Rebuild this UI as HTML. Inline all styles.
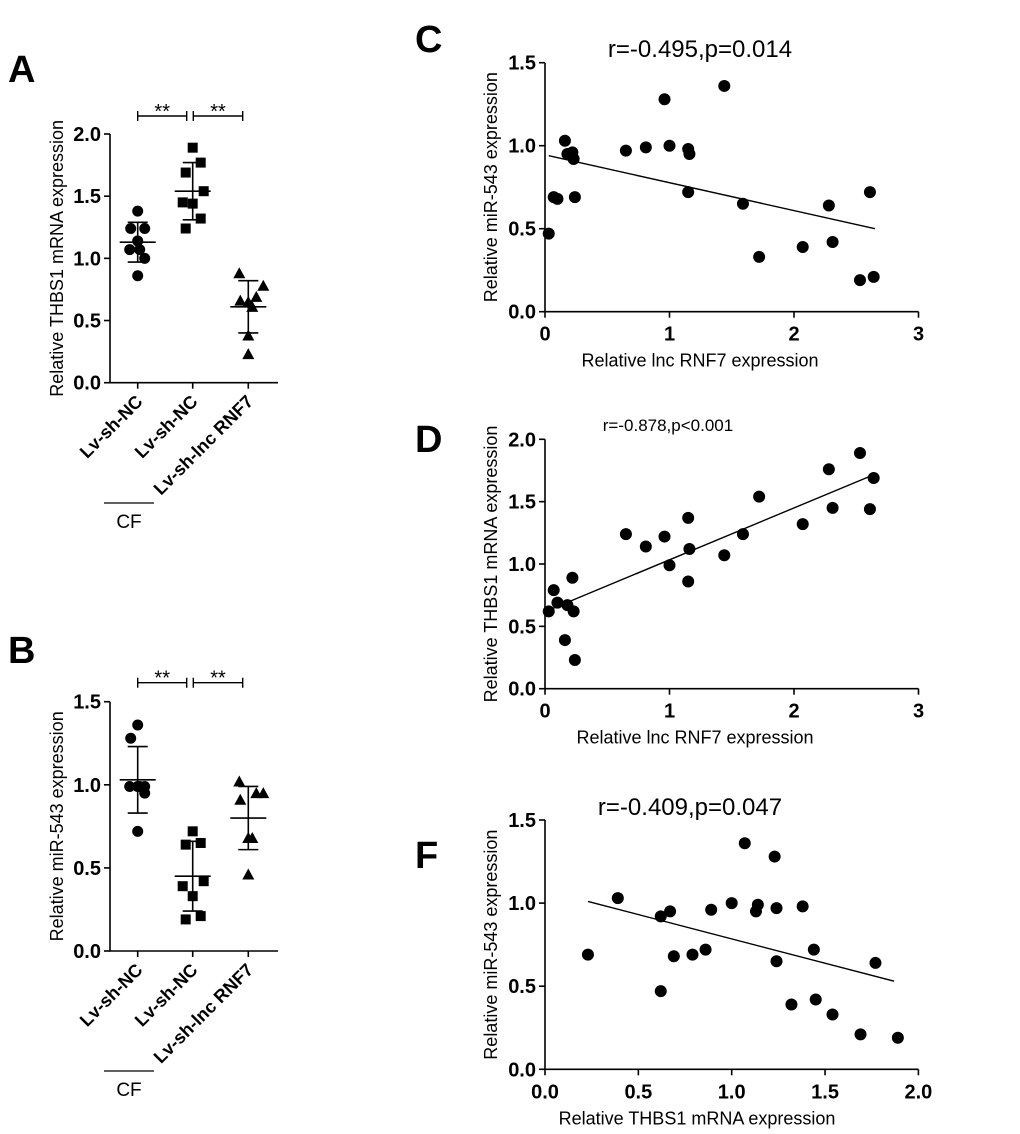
<!DOCTYPE html>
<html><head><meta charset="utf-8"><style>
html,body{margin:0;padding:0;background:#fff;}
svg{display:block;font-family:"Liberation Sans",Arial,sans-serif;}
</style></head><body>
<svg id="fig" width="1020" height="1134" viewBox="0 0 1020 1134" xmlns="http://www.w3.org/2000/svg">
<text x="8" y="82" font-size="38" font-weight="bold">A</text>
<text x="8" y="663" font-size="38" font-weight="bold">B</text>
<text x="415" y="52" font-size="38" font-weight="bold">C</text>
<text x="415" y="452" font-size="38" font-weight="bold">D</text>
<text x="415" y="868" font-size="38" font-weight="bold">F</text>
</svg>
<script>
// ---- Panel A data ----
const aGroups = ["Lv-sh-NC","Lv-sh-NC","Lv-sh-lnc RNF7"];
const aVals1 = [1.38,1.24,1.24,1.14,1.07,1.07,1.00,0.86];
const aVals2 = [1.89,1.77,1.69,1.54,1.45,1.44,1.32,1.24];
const aVals3 = [0.88,0.78,0.69,0.66,0.65,0.61,0.38,0.23];
const aMeans = [1.13,1.54,0.61];
const aSD = [0.16,0.23,0.21];
const aTicks = ["0.0","0.5","1.0","1.5","2.0"];
// ---- Panel B data ----
const bVals1 = [1.36,1.28,0.99,0.99,0.99,0.99,0.95,0.72];
const bVals2 = [0.72,0.65,0.64,0.42,0.39,0.33,0.21,0.19];
const bVals3 = [1.02,0.95,0.95,0.91,0.68,0.68,0.68,0.46];
const bMeans = [1.03,0.45,0.80];
const bSD = [0.20,0.21,0.19];
const bTicks = ["0.0","0.5","1.0","1.5"];
// ---- Panel C data ----
const cX = [0.03,0.07,0.10,0.16,0.18,0.22,0.23,0.24,0.65,0.81,0.96,1.00,1.15,1.16,1.15,1.44,1.59,1.72,2.07,2.28,2.31,2.53,2.61,2.64];
const cY = [0.47,0.69,0.68,1.03,0.95,0.96,0.92,0.69,0.97,0.99,1.28,1.00,0.98,0.95,0.72,1.36,0.65,0.33,0.39,0.64,0.42,0.19,0.72,0.21];
const cFitX = [0.03,2.65];
const cFitY = [0.94,0.50];
// ---- Panel D data ----
const dX = [0.03,0.07,0.10,0.16,0.18,0.22,0.23,0.24,0.65,0.81,0.96,1.00,1.15,1.16,1.15,1.44,1.59,1.72,2.07,2.28,2.31,2.53,2.61,2.64];
const dY = [0.62,0.79,0.69,0.39,0.67,0.89,0.62,0.23,1.24,1.14,1.22,0.99,1.37,1.12,0.86,1.07,1.24,1.54,1.32,1.76,1.45,1.89,1.44,1.69];
const dFitX = [0.03,2.65];
const dFitY = [0.63,1.72];
// ---- Panel F data ----
const fX = [0.23,0.39,0.62,0.62,0.67,0.69,0.79,0.86,0.89,1.00,1.07,1.13,1.14,1.23,1.24,1.24,1.32,1.38,1.44,1.45,1.54,1.69,1.77,1.89];
const fY = [0.69,1.03,0.92,0.47,0.95,0.68,0.69,0.72,0.96,1.00,1.36,0.95,0.99,1.28,0.97,0.65,0.39,0.98,0.72,0.42,0.33,0.21,0.64,0.19];
const fFitX = [0.23,1.87];
const fFitY = [1.01,0.53];
const xTicksCD = ["0","1","2","3"];
const xTicksF = ["0.0","0.5","1.0","1.5","2.0"];
const yTicksC = ["0.0","0.5","1.0","1.5"];
const yTicksD = ["0.0","0.5","1.0","1.5","2.0"];

const NS="http://www.w3.org/2000/svg";
const svg=document.getElementById('fig');
function mk(tag,attrs,parent){const e=document.createElementNS(NS,tag);for(const k in attrs)e.setAttribute(k,attrs[k]);(parent||svg).appendChild(e);return e;}
function txt(s,attrs,parent){const e=mk('text',attrs,parent);e.textContent=s;return e;}

const jit1=[0,-7,7,0,-8,2,7,0], jit2=[0,8,-7,11,-10,0,8,-7], jit3=[-9,15,8,-8,0,4,0,0];

function dotPlot(cfg){
  const g=mk('g',{});
  
  
  const y=v=>cfg.y0-(v/cfg.ymax)*(cfg.y0-cfg.y1);
  const gx=[137.7,192.7,248.3];
  const ax=mk('path',{d:`M110 ${cfg.y1}V${cfg.y0}H278`,stroke:'#000','stroke-width':1.6,fill:'none'},g);
  
  
  cfg.ticks.forEach(t=>{const yy=y(parseFloat(t));
    mk('line',{x1:104,x2:110,y1:yy,y2:yy,stroke:'#000','stroke-width':1.6},g);
    const l=txt(t,{x:101,y:yy+7,'text-anchor':'end','font-size':'20','font-weight':'bold'},g);
    
    
  });
  gx.forEach((x,i)=>{mk('line',{x1:x,x2:x,y1:cfg.y0,y2:cfg.y0+6,stroke:'#000','stroke-width':1.6},g);
    const l=txt(aGroups[i],{x:0,y:0,'text-anchor':'end','font-size':'18','font-weight':'bold',transform:`translate(${x+6},${cfg.y0+20}) rotate(-45)`},g);
    
    
  });
  const yt=txt(cfg.ytitle,{x:0,y:0,'text-anchor':'middle','font-size':'18',transform:`translate(63,${(cfg.y0+cfg.y1)/2}) rotate(-90)`},g);
  
  
  const sets=[cfg.v1,cfg.v2,cfg.v3], jits=[jit1,jit2,jit3];
  sets.forEach((vals,gi)=>{vals.forEach((v,i)=>{
    const cx=gx[gi]+jits[gi][i], cy=y(v); let p;
    if(gi===0)p=mk('circle',{cx:cx,cy:cy,r:5.5,fill:'#000'},g);
    else if(gi===1)p=mk('rect',{x:cx-5,y:cy-5,width:10,height:10,fill:'#000'},g);
    else p=mk('path',{d:`M${cx} ${cy-6}L${cx+6} ${cy+5}L${cx-6} ${cy+5}Z`,fill:'#000'},g);
    
    
  });
    const m=cfg.means[gi], s=cfg.sd[gi], x=gx[gi];
    const e=mk('path',{d:`M${x-18} ${y(m)}H${x+18}M${x-10} ${y(m+s)}H${x+10}M${x-10} ${y(m-s)}H${x+10}M${x} ${y(m+s)}V${y(m-s)}`,stroke:'#000','stroke-width':1.6,fill:'none'},g);
    
    
  });
  [[137.7,186.7],[193.3,242.7]].forEach(([a,b])=>{
    const br=mk('path',{d:`M${a} ${cfg.by-5}V${cfg.by+5}M${a} ${cfg.by}H${b}M${b} ${cfg.by-5}V${cfg.by+5}`,stroke:'#000','stroke-width':1.4,fill:'none'},g);
    
    
    const st=txt('**',{x:(a+b)/2,y:cfg.by+2,'text-anchor':'middle','font-size':'20'},g);
    
    
  });
  const cl=mk('line',{x1:104,x2:154,y1:cfg.cfy,y2:cfg.cfy,stroke:'#000','stroke-width':1.2},g);
  
  
  const ct=txt('CF',{x:129,y:cfg.cfy+25,'text-anchor':'middle','font-size':'19'},g);
  
  
}

function scatter(cfg){
  const g=mk('g',{});
  
  
  const X=v=>545+v*cfg.xs, Y=v=>cfg.y0-v*cfg.ys;
  const xmax=parseFloat(cfg.xt[cfg.xt.length-1]), ymax=parseFloat(cfg.yt[cfg.yt.length-1]);
  const ax=mk('path',{d:`M545 ${Y(ymax)}V${cfg.y0}H${X(xmax)}`,stroke:'#000','stroke-width':1.6,fill:'none'},g);
  
  
  cfg.yt.forEach(t=>{const yy=Y(parseFloat(t));
    mk('line',{x1:539,x2:545,y1:yy,y2:yy,stroke:'#000','stroke-width':1.6},g);
    const l=txt(t,{x:536,y:yy+7,'text-anchor':'end','font-size':'20','font-weight':'bold'},g);
    
    
  });
  cfg.xt.forEach(t=>{const xx=X(parseFloat(t));
    mk('line',{x1:xx,x2:xx,y1:cfg.y0,y2:cfg.y0+6,stroke:'#000','stroke-width':1.6},g);
    const l=txt(t,{x:xx,y:cfg.y0+29,'text-anchor':'middle','font-size':'20','font-weight':'bold'},g);
    
    
  });
  cfg.px.forEach((v,i)=>{const c=mk('circle',{cx:X(v),cy:Y(cfg.py[i]),r:6,fill:'#000'},g);
    
    
  });
  const fl=mk('line',{x1:X(cfg.fx[0]),y1:Y(cfg.fy[0]),x2:X(cfg.fx[1]),y2:Y(cfg.fy[1]),stroke:'#000','stroke-width':1.4},g);
  
  
  const tt=txt(cfg.title,{x:cfg.tx,y:cfg.ty,'text-anchor':'middle','font-size':cfg.tfs},g);
  
  
  const xl=txt(cfg.xlab,{x:cfg.xlx,y:cfg.y0+55,'text-anchor':'middle','font-size':'18'},g);
  
  
  const yl=txt(cfg.ylab,{x:0,y:0,'text-anchor':'middle','font-size':'18',transform:`translate(497,${cfg.y0-ymax*cfg.ys/2}) rotate(-90)`},g);
  
  
}

dotPlot({name:'panel-a-dot-plot',y0:382.7,y1:134,ymax:2,ticks:aTicks,v1:aVals1,v2:aVals2,v3:aVals3,means:aMeans,sd:aSD,by:116,cfy:503,ytitle:'Relative THBS1 mRNA expression'});
dotPlot({name:'panel-b-dot-plot',y0:951,y1:701.7,ymax:1.5,ticks:bTicks,v1:bVals1,v2:bVals2,v3:bVals3,means:bMeans,sd:bSD,by:682.7,cfy:1071,ytitle:'Relative  miR-543 expression'});
scatter({name:'panel-c-scatter',y0:311.7,ys:166,xs:124.5,xt:xTicksCD,yt:yTicksC,px:cX,py:cY,fx:cFitX,fy:cFitY,title:'r=-0.495,p=0.014',tx:700,ty:57,tfs:'24',xlab:'Relative lnc RNF7 expression',xlx:700,ylab:'Relative  miR-543 expression'});
scatter({name:'panel-d-scatter',y0:688.7,ys:124.7,xs:124.5,xt:xTicksCD,yt:yTicksD,px:dX,py:dY,fx:dFitX,fy:dFitY,title:'r=-0.878,p<0.001',tx:668,ty:431,tfs:'17',xlab:'Relative lnc RNF7 expression',xlx:695,ylab:'Relative THBS1 mRNA expression'});
scatter({name:'panel-f-scatter',y0:1069.3,ys:166.2,xs:186.7,xt:xTicksF,yt:yTicksC,px:fX,py:fY,fx:fFitX,fy:fFitY,title:'r=-0.409,p=0.047',tx:690,ty:815,tfs:'24',xlab:'Relative THBS1 mRNA expression',xlx:697,ylab:'Relative  miR-543 expression'});
</script>
</body></html>
